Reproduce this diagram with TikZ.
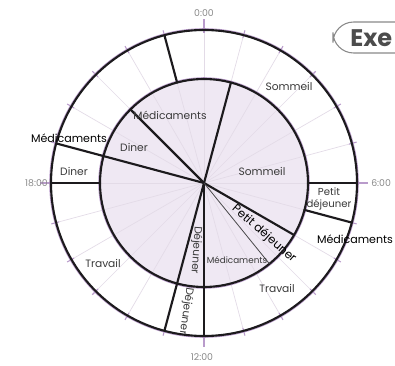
\documentclass[tikz,border=0pt]{standalone}
\usepackage{fontspec}
\setmainfont{Poppins}
\usetikzlibrary{calc}
\definecolor{lav}{HTML}{EFE8F3}
\definecolor{ray}{HTML}{E3DBE7}
\definecolor{tickc}{HTML}{B99BCB}
\definecolor{ink}{HTML}{1C1A1D}
\definecolor{hourc}{HTML}{8A8A8A}
\definecolor{txt}{HTML}{3A3A3A}
\begin{document}
\begin{tikzpicture}[x=0.75pt,y=-0.75pt,
  seg/.style={ink,line width=1.6pt,line cap=round},
  lbl/.style={txt,font=\fontsize{8}{9.6}\selectfont,inner sep=0pt,align=center},
  blbl/.style={black,font=\fontsize{8.3}{9.8}\selectfont,inner sep=0pt},
  slbl/.style={txt,font=\fontsize{6.6}{8}\selectfont,inner sep=0pt},
  hlbl/.style={hourc,font=\fontsize{7}{8}\selectfont,inner sep=0pt}]
\useasboundingbox (0,0) rectangle (395,366);
\fill[white] (0,0) rectangle (395,366);
\coordinate (C) at (204,183);
% inner disc
\fill[lav] (C) circle (104);
% hour rays
\foreach \h in {0,...,23}
  \draw[ray,line width=0.5pt] (C) -- ($(C)+(-90+15*\h:153)$);
% hour ticks
\foreach \h in {0,...,23}
  \draw[tickc,line width=0.8pt] ($(C)+(-90+15*\h:150)$) -- ($(C)+(-90+15*\h:158)$);
\foreach \h in {0,6,12,18}
  \draw[tickc,line width=0.9pt] ($(C)+(-90+15*\h:153)$) -- ($(C)+(-90+15*\h:164)$);
% circles
\draw[tickc,line width=0.7pt] (C) circle (154.3);
\draw[ink,line width=1.6pt] (C) circle (153);
\draw[tickc,line width=0.7pt] (C) circle (105.3);
\draw[ink,line width=1.6pt] (C) circle (104);
% full radial lines
\foreach \h in {12,13,19}
  \draw[seg] (C) -- ($(C)+(-90+15*\h:153)$);
% inner-only lines
\foreach \h in {1,8,21}
  \draw[seg] (C) -- ($(C)+(-90+15*\h:104)$);
% outer ring lines
\foreach \h in {23,6,7,18}
  \draw[seg] ($(C)+(-90+15*\h:104)$) -- ($(C)+(-90+15*\h:153)$);
% thin annotation line
\draw[ink!80,line width=0.6pt] (C) -- ($(C)+(51:104)$);
% hour labels
\node[hlbl] (h0) at (204,13) {0:00};
\node[hlbl,anchor=west] (h6) at (371,183) {6:00};
\node[hlbl] (h12) at (202,357) {12:00};
\node[hlbl,anchor=east] (h18) at (48,183) {18:00};
% inner labels
\node[lbl] (iSom) at (262,171) {Sommeil};
\node[lbl] (iMed) at (170,115) {Médicaments};
\node[lbl] (iDin) at (134,147) {Diner};
\node[lbl,rotate=-94] (iDej) at (196,250) {Déjeuner};
\node[blbl,font=\fontsize{8.8}{10}\selectfont,rotate=-41] (iPD) at (264,234) {Petit déjeuner};
\node[slbl] (iMed2) at (237,260) {Médicaments};
% outer labels
\node[lbl] (oSom) at (289,86) {Sommeil};
\node[lbl,font=\fontsize{7.6}{8.6}\selectfont] (oPD) at (329,199) {Petit\\déjeuner};
\node[lbl] (oTr1) at (277,288) {Travail};
\node[lbl,rotate=-98] (oDej) at (186,311) {Déjeuner};
\node[lbl] (oTr2) at (103,263) {Travail};
\node[lbl] (oDin) at (74,171) {Diner};
\node[blbl] (oMed1) at (69,138) {Médicaments};
\node[blbl] (oMed2) at (355,239) {Médicaments};
% button
\draw[hourc,line width=0.8pt,rounded corners=15.5] (396,22) -- (333,22) -- (333,53) -- (396,53);
\node[anchor=west,inner sep=0pt,text=black!70,font=\fontsize{18}{20}\bfseries] (exe) at (350,38) {Exe};
\end{tikzpicture}
\end{document}
